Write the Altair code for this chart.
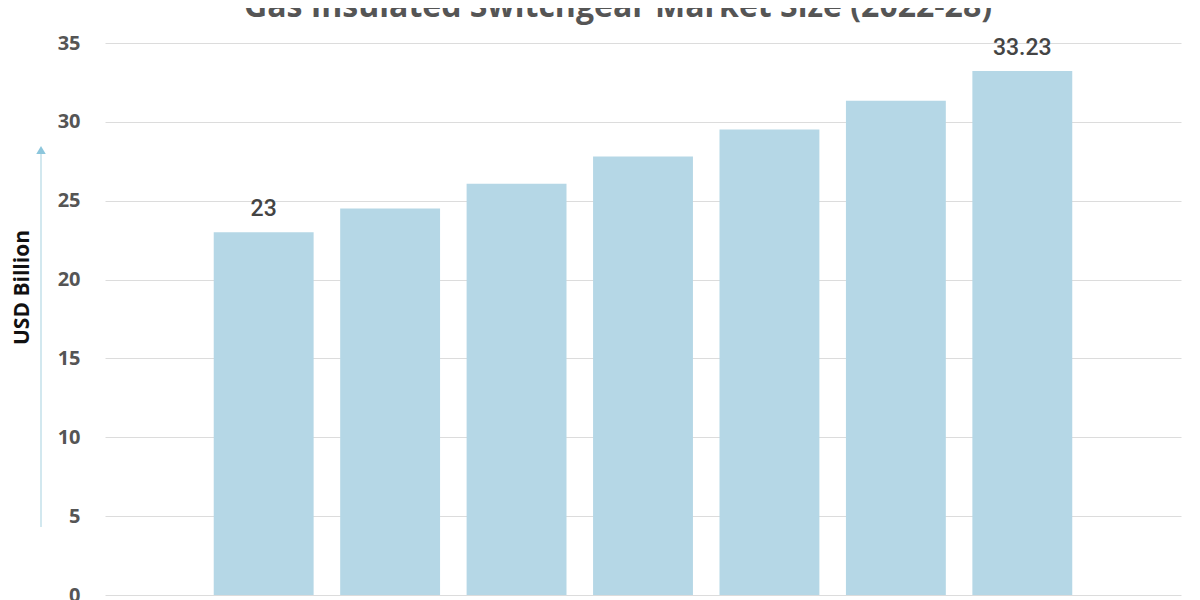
import altair as alt
import pandas as pd

years = ["2022", "2023", "2024", "2025", "2026", "2027", "2028"]
values = [23, 24.51, 26.08, 27.80, 29.52, 31.34, 33.23]
labels = ["23", "", "", "", "", "", "33.23"]

title_text = "Gas Insulated Switchgear Market Size (2022-28)"

source = pd.DataFrame({"year": years, "value": values, "label": labels})
deco = pd.DataFrame({"k": [0]})

base = alt.Chart(source)

bars = base.mark_bar(color="#b5d7e6").encode(
    x=alt.X("year:N", title=None,
            scale=alt.Scale(paddingInner=0.21, paddingOuter=0.86),
            axis=alt.Axis(ticks=False, domain=False, labels=False)),
    y=alt.Y("value:Q", scale=alt.Scale(domain=[0, 35], nice=False),
            axis=alt.Axis(values=[0, 5, 10, 15, 20, 25, 30, 35],
                          ticks=False, domain=False, gridColor="#dcdcdc",
                          labelFont="Open Sans", labelFontWeight="bold",
                          labelFontSize=20, labelColor="#555555",
                          labelPadding=25,
                          title="USD Billion", titleAngle=270,
                          titleX=-83, titleY=244, titleAlign="center",
                          titleBaseline="middle", titleFont="Open Sans",
                          titleFontSize=21, titleFontWeight="bold",
                          titleColor="#111111")),
)

text = base.mark_text(dy=-16, baseline="alphabetic", font="Roboto",
                      fontSize=23, fontWeight=500, color="#444444").encode(
    x="year:N",
    y="value:Q",
    text="label:N",
)

# arrow next to the y axis title
arrow_line = alt.Chart(deco).mark_rule(color="#c3e0ea", strokeWidth=1.5).encode(
    x=alt.value(-64), y=alt.value(110), y2=alt.value(484)
)
arrow_head = alt.Chart(deco).mark_point(shape="triangle-up", filled=True,
                                        color="#8cc6dc", opacity=1, size=90).encode(
    x=alt.value(-64), y=alt.value(107)
)

title = alt.Chart(deco).mark_text(font="Open Sans", fontWeight="bold",
                                  fontSize=32, color="#555555",
                                  baseline="alphabetic", align="center").encode(
    x=alt.value(513), y=alt.value(-26), text=alt.value(title_text)
)

chart = alt.layer(bars, text, arrow_line, arrow_head, title).properties(
    width=1076,
    height=552,
    autosize=alt.AutoSizeParams(type="none"),
    padding={"left": 97, "top": 35, "right": 10, "bottom": 10},
).configure_view(stroke=None)

chart.save("out.html", embed_options={"renderer": "svg", "actions": False})
